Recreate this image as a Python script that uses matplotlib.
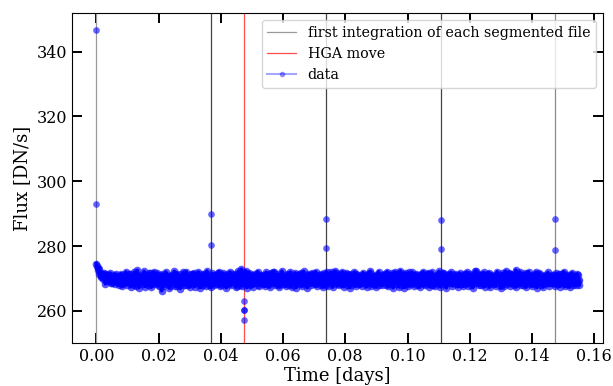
import numpy as np
import matplotlib
matplotlib.use("Agg")
import matplotlib.pyplot as plt

plt.rcParams['font.family'] = ['DejaVu Serif']
plt.rcParams['path.simplify'] = False

# flux readings (DN/s): two interleaved sets of samples, evenly spaced in time 0 .. 0.155 days
band_flux_a = [
    274.6, 273.2, 272.9, 271.8, 270.8, 271.4, 270.2, 271.3, 269.6, 270.8, 271.2, 269.1, 270.5, 268.7, 270.9, 269.8, 271.3, 268.9, 270.1, 269.4,
    270.6, 268.3, 269.9, 271.0, 268.8, 270.3, 269.2, 271.4, 268.5, 269.7, 270.8, 268.1, 269.5, 270.2, 272.5, 268.9, 269.3, 270.7, 268.4, 269.8,
    271.1, 268.6, 270.0, 269.2, 271.6, 268.2, 269.6, 270.9, 268.7, 270.4, 269.0, 271.2, 267.9, 269.8, 266.2, 268.4, 269.1, 271.0, 268.8, 270.2,
    269.5, 267.8, 270.7, 268.9, 269.4, 271.3, 268.3, 267.6, 270.1, 269.0, 268.6, 270.8, 269.7, 268.1, 271.1, 269.3, 270.4, 268.5, 269.9, 271.5,
    268.2, 270.0, 269.4, 271.2, 268.7, 269.8, 270.6, 268.0, 269.5, 271.4, 268.9, 270.3, 269.1, 267.9, 270.9, 269.6, 268.4, 271.0, 269.2, 270.5,
    268.6, 271.7, 269.3, 268.1, 270.2, 269.8, 271.1, 268.5, 269.0, 270.7, 268.3, 269.9, 271.3, 268.8, 270.1, 269.4, 267.8, 270.8, 269.6, 271.0,
    272.9, 270.4, 269.2, 271.6, 268.4, 269.7, 270.3, 268.2, 271.2, 269.5, 268.7, 270.6, 269.0, 271.4, 268.1, 269.8, 270.9, 268.6, 269.3, 271.1,
    270.0, 268.3, 269.6, 271.5, 268.8, 270.2, 269.1, 272.1, 268.5, 269.9, 270.7, 268.0, 269.4, 271.0, 268.9, 270.5, 269.2, 268.4, 271.3, 269.7,
    268.6, 270.8, 269.3, 268.1, 271.2, 269.8, 270.4, 268.7, 269.5, 271.7, 268.3, 270.0, 269.1, 270.9, 268.5, 269.6, 271.1, 268.9, 270.3, 269.4,
    271.0, 268.2, 269.7, 270.6, 268.8, 269.2, 271.4, 268.4, 270.1, 269.9, 268.0, 270.7, 269.5, 271.2, 268.6, 269.3, 270.5, 268.9, 271.8, 269.0,
    270.2, 268.5, 269.8, 271.1, 268.3, 270.4, 269.6, 268.7, 271.3, 269.1, 270.8, 268.1, 269.4, 270.6, 268.9, 271.5, 269.2, 268.4, 270.0, 269.7,
    268.8, 271.0, 269.5, 268.2, 270.9, 269.3, 271.6, 268.6, 270.3, 269.0, 268.4, 270.7, 269.8, 271.2, 268.1, 269.6, 270.4, 268.9, 271.4, 269.2,
    270.5, 268.3, 269.9, 271.1, 268.7, 270.2, 269.4, 272.0, 268.5, 269.7, 270.8, 268.0, 269.3, 271.3, 268.8, 270.1, 269.6, 268.2, 270.9, 269.0,
    271.2, 268.6, 270.0, 269.3, 271.5, 268.4, 269.8, 270.6, 268.9, 271.0, 269.1, 268.3, 270.4, 269.7, 271.3, 268.7, 269.5, 270.8, 268.1, 269.9,
    270.3, 268.8, 271.1, 269.4, 268.5, 270.7, 269.0, 271.8, 268.2, 269.6, 270.5, 268.9, 271.2, 269.3, 268.6, 270.1, 269.8, 271.4, 268.4, 270.0,
    269.2, 270.9, 268.7, 269.5, 271.0, 268.3, 270.4, 269.7, 268.9, 271.3, 269.1, 270.6, 268.5, 269.9, 272.3, 268.8, 270.2, 269.4, 268.1, 271.1,
    269.6, 268.4, 270.8, 269.0, 271.5, 268.7, 270.1, 269.3, 268.2, 270.9, 269.8, 271.2, 268.6, 270.3, 269.5, 268.0, 271.0, 269.2, 270.6, 268.8,
    270.4, 269.1, 271.3, 268.5, 269.9, 270.7, 268.3, 272.6, 269.4, 270.2, 268.9, 271.1, 269.6, 268.1, 270.5, 269.0, 271.4, 268.7, 269.8, 270.0,
    268.6, 271.0, 269.3, 270.8, 268.4, 269.7, 271.6, 268.9, 270.1, 269.2, 268.2, 270.6, 269.9, 271.2, 268.7, 269.5, 270.3, 268.5, 271.1, 269.4,
    270.7, 268.3, 269.6, 271.3, 268.8, 270.0, 269.1, 271.5, 268.4, 269.8, 270.9, 268.6, 269.3, 271.0, 268.1, 270.4, 269.7, 268.9, 271.2, 269.5,
]
band_flux_b = [
    273.9, 272.6, 271.5, 270.4, 271.3, 269.9, 271.6, 268.3, 271.1, 269.2, 270.6, 271.7, 268.5, 270.0, 271.0, 268.3, 269.7, 270.8, 267.9, 270.4,
    271.5, 267.6, 269.1, 270.5, 272.0, 268.0, 269.8, 271.3, 267.4, 270.1, 268.6, 271.9, 267.7, 269.4, 270.6, 267.2, 271.1, 268.8, 270.3, 272.2,
    267.5, 270.8, 268.1, 271.6, 269.0, 267.3, 270.5, 272.1, 268.3, 269.6, 271.7, 267.8, 270.2, 268.7, 271.4, 267.6, 269.9, 272.0, 268.2, 270.7,
    267.1, 271.2, 268.9, 270.0, 272.2, 267.7, 269.3, 271.5, 268.4, 266.9, 270.6, 271.9, 267.9, 269.5, 272.1, 268.0, 270.3, 267.4, 271.3, 269.1,
    271.8, 267.5, 270.4, 268.6, 272.0, 267.2, 269.7, 271.4, 268.1, 270.9, 267.8, 272.3, 268.9, 270.2, 267.3, 271.6, 269.0, 267.9, 271.1, 268.4,
    270.6, 272.1, 267.6, 269.4, 271.7, 268.2, 270.0, 267.1, 271.3, 268.7, 272.0, 267.9, 270.5, 269.2, 271.5, 267.4, 269.8, 272.2, 268.0, 270.8,
    267.7, 271.0, 268.5, 272.4, 267.2, 270.3, 271.8, 268.1, 269.6, 267.5, 271.4, 268.8, 270.1, 272.1, 267.8, 269.3, 271.2, 268.3, 270.7, 267.6,
    271.9, 268.6, 270.2, 267.3, 271.6, 269.0, 272.0, 267.9, 270.5, 268.2, 271.3, 267.4, 269.8, 272.3, 268.4, 270.9, 267.7, 271.1, 269.5, 268.0,
    272.0, 267.5, 270.6, 268.9, 271.7, 267.2, 269.9, 271.4, 268.3, 270.1, 267.8, 272.2, 268.7, 270.4, 267.1, 271.5, 269.2, 267.9, 271.8, 268.5,
    270.3, 272.1, 267.6, 269.7, 271.2, 268.1, 270.8, 267.4, 271.6, 268.6, 272.0, 267.8, 270.0, 269.3, 271.9, 267.3, 269.6, 272.3, 268.2, 270.7,
    267.9, 271.3, 268.4, 272.1, 267.5, 270.2, 271.7, 268.0, 269.8, 267.2, 271.5, 268.7, 270.5, 272.0, 267.6, 269.4, 271.1, 268.3, 270.9, 267.8,
    271.8, 268.5, 270.1, 267.4, 271.4, 269.1, 272.2, 267.7, 270.6, 268.2, 271.2, 267.3, 269.9, 272.1, 268.6, 270.8, 267.9, 271.0, 269.4, 268.1,
    272.1, 267.6, 270.4, 268.8, 271.6, 267.1, 269.7, 271.3, 268.4, 270.0, 267.5, 272.4, 268.9, 270.3, 267.2, 271.7, 269.0, 267.8, 271.9, 268.3,
    270.5, 271.9, 267.7, 269.5, 271.1, 268.0, 270.7, 267.3, 271.5, 268.7, 272.1, 267.9, 270.2, 269.2, 271.8, 267.4, 269.6, 272.0, 268.1, 270.9,
    267.8, 271.2, 268.6, 272.2, 267.4, 270.1, 271.6, 268.2, 269.9, 267.1, 271.4, 268.5, 270.6, 271.9, 267.7, 269.3, 271.0, 268.4, 270.8, 267.5,
    271.7, 268.3, 270.0, 267.6, 271.3, 269.0, 272.0, 267.8, 270.4, 268.1, 271.1, 267.2, 269.8, 272.2, 268.7, 270.6, 267.9, 271.5, 269.3, 268.2,
    271.9, 267.5, 270.3, 268.9, 271.8, 267.3, 269.5, 271.2, 268.5, 270.0, 267.6, 272.1, 268.8, 270.5, 267.0, 271.6, 269.1, 267.7, 272.3, 268.4,
    270.2, 271.8, 267.8, 269.4, 271.3, 268.1, 270.8, 267.5, 271.4, 268.6, 272.0, 267.9, 270.1, 269.0, 271.7, 267.3, 269.7, 272.1, 268.3, 270.7,
    267.6, 271.1, 268.4, 272.0, 267.2, 270.4, 271.5, 268.0, 269.6, 267.4, 271.2, 268.7, 270.3, 271.9, 267.8, 269.2, 271.0, 268.5, 270.6, 267.7,
    271.6, 268.2, 269.9, 267.5, 271.3, 268.9, 272.1, 267.6, 270.2, 268.3, 271.0, 267.3, 269.7, 271.8, 268.6, 270.5, 267.9, 271.4, 269.2, 268.0,
]
band_t_start = 0.0
band_t_end = 0.155

# outlier readings
outlier_t = [0.0, 0.0, 0.0369, 0.0369, 0.0737, 0.0737, 0.1106, 0.1106, 0.1475, 0.1475,
             0.0476, 0.0476, 0.0476, 0.0476]
outlier_flux = [346.6, 293.1, 289.8, 280.4, 288.5, 279.3, 288.0, 279.2, 288.3, 278.8,
                263.2, 260.2, 260.2, 257.3]

segment_starts = [0.0, 0.0369, 0.0737, 0.1106, 0.1475]
segment_colors = ['#9a9a9a', '#444444', '#444444', '#444444', '#8a8a8a']
hga_move = 0.0476

n = len(band_flux_a)
t_a = np.linspace(band_t_start, band_t_end, n)
step = t_a[1] - t_a[0]
t_b = t_a + step / 2
band_t = np.concatenate([t_a, t_b])
band_flux = np.concatenate([band_flux_a, band_flux_b])
order = np.argsort(band_t)
band_t = band_t[order]
band_flux = band_flux[order]

fig = plt.figure(figsize=(6.13, 3.86), dpi=100)
ax = fig.add_axes([0.1175, 0.1106, 0.8662, 0.8549])

for i, (xs, c) in enumerate(zip(segment_starts, segment_colors)):
    ax.axvline(xs, color=c, lw=0.9,
               label='first integration of each segmented file' if i == 0 else None)
ax.axvline(hga_move, color='red', lw=0.9, alpha=0.7, label='HGA move')

# connecting line (fills the dense band) and markers
ax.plot(band_t, band_flux, '-', color='blue', alpha=1.0, lw=2.5)
ax.plot(band_t, band_flux, 'o', color='blue', alpha=0.65, ms=5.5, mew=0)
ax.plot(outlier_t, outlier_flux, 'o', color='blue', alpha=0.6, ms=4.8, mew=0, ls='none')
# legend proxy for the data series
ax.plot([], [], '.-', color='blue', alpha=0.35, ms=6, lw=1.5,
        markerfacecolor='blue', label='data')

ax.set_xlim(-0.0078, 0.1628)
ax.set_ylim(250, 351.8)
ax.set_xticks(np.arange(0, 0.161, 0.02))
ax.set_yticks([260, 280, 300, 320, 340])
ax.tick_params(direction='in', length=7, width=1.4, top=True, right=True, labelsize=11.5)
ax.set_xlabel('Time [days]', fontsize=13, labelpad=1)
ax.set_ylabel('Flux [DN/s]', fontsize=13)
leg = ax.legend(loc='upper right', fontsize=10.3, framealpha=0.8, borderaxespad=0.5)

fig.savefig('out.png', dpi=100)
